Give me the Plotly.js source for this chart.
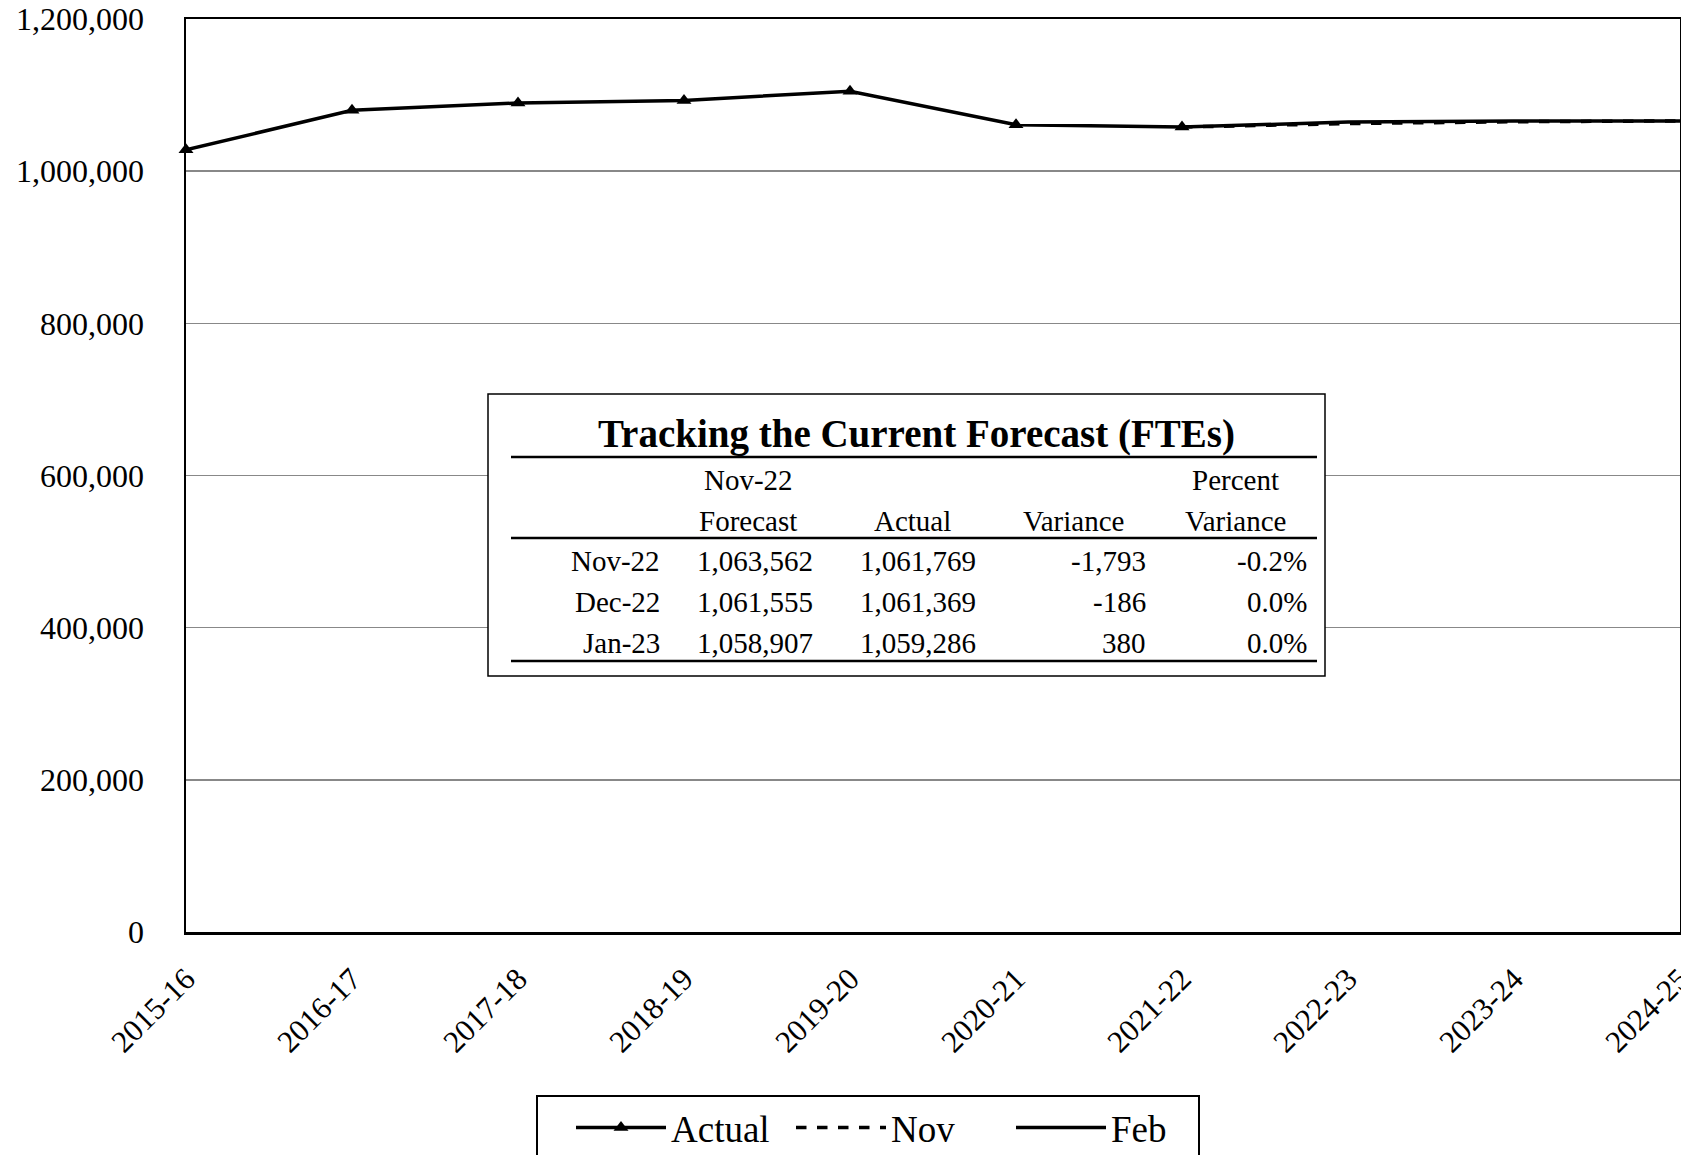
<!DOCTYPE html>
<html>
<head>
<meta charset="utf-8">
<script src="https://cdn.plot.ly/plotly-3.0.1.min.js"></script>
<style>
  html, body { margin: 0; padding: 0; background: #fff; }
  #plot { width: 1681px; height: 1155px; }
</style>
</head>
<body>
<div id="plot"></div>
<script>
// school years along the x axis
var years = ['2015-16', '2016-17', '2017-18', '2018-19', '2019-20',
             '2020-21', '2021-22', '2022-23', '2023-24', '2024-25'];

// FTEs
var actualYears = years.slice(0, 7);
var actualFte = [1028000, 1080000, 1089600, 1093000, 1105000, 1061000, 1058000];
var forecastYears = years.slice(6);
var novFte = [1058000, 1062500, 1065000, 1066000];
var febFte = [1058000, 1064500, 1066000, 1066000];

// inset table
var tableTitle = 'Tracking the Current Forecast (FTEs)';
var tableHead1 = ['', 'Nov-22', '', '', 'Percent'];
var tableHead2 = ['', 'Forecast', 'Actual', 'Variance', 'Variance'];
var tableMonths = ['Nov-22', 'Dec-22', 'Jan-23'];
var tableForecast = ['1,063,562', '1,061,555', '1,058,907'];
var tableActual = ['1,061,769', '1,061,369', '1,059,286'];
var tableVariance = ['-1,793', '-186', '380'];
var tablePct = ['-0.2%', '0.0%', '0.0%'];

var FONT = 'Liberation Serif, Times New Roman, serif';

// plot area in page pixels, used to place the inset table
var L = 186, R = 1680, T = 19, B = 932;
function px(x) { return (x - L) / (R - L); }
function py(y) { return (B - y) / (B - T); }

var traces = [
  {
    x: actualYears, y: actualFte, name: 'Actual', type: 'scatter', mode: 'lines+markers',
    line: { color: '#000', width: 3.5 },
    marker: { symbol: 'triangle-up', size: 13, color: '#000' },
    cliponaxis: false
  },
  {
    x: forecastYears, y: novFte, name: 'Nov', type: 'scatter', mode: 'lines',
    line: { color: '#000', width: 3.5, dash: 'dash' }
  },
  {
    x: forecastYears, y: febFte, name: 'Feb', type: 'scatter', mode: 'lines',
    line: { color: '#000', width: 3.5 }
  }
];

var annotations = [];
var shapes = [];

// table frame
shapes.push({
  type: 'rect', xref: 'paper', yref: 'paper', layer: 'above',
  x0: px(488), x1: px(1325), y0: py(676), y1: py(394),
  fillcolor: '#fff', line: { color: '#000', width: 1.5 }
});
// table rules
[457, 538, 661].forEach(function (yy) {
  shapes.push({
    type: 'line', xref: 'paper', yref: 'paper', layer: 'above',
    x0: px(511), x1: px(1317), y0: py(yy), y1: py(yy),
    line: { color: '#000', width: 2.5 }
  });
});

annotations.push({
  xref: 'paper', yref: 'paper', x: px(916), y: py(434), showarrow: false,
  xanchor: 'center', yanchor: 'middle',
  text: '<b>' + tableTitle + '</b>', font: { family: FONT, size: 39, color: '#000' }
});

var headCenters = [0, 748, 912, 1073, 1235];
[tableHead1, tableHead2].forEach(function (row, r) {
  row.forEach(function (t, c) {
    if (!t) return;
    annotations.push({
      xref: 'paper', yref: 'paper', x: px(headCenters[c]), y: py(r === 0 ? 480 : 521),
      showarrow: false, xanchor: 'center', yanchor: 'middle',
      text: t, font: { family: FONT, size: 29, color: '#000' }
    });
  });
});

var colRight = [662, 815, 978, 1148, 1309];
var rowY = [561, 602, 643];
var cols = [tableMonths, tableForecast, tableActual, tableVariance, tablePct];
cols.forEach(function (col, c) {
  col.forEach(function (t, r) {
    annotations.push({
      xref: 'paper', yref: 'paper', x: px(colRight[c]), y: py(rowY[r]),
      showarrow: false, xanchor: 'right', yanchor: 'middle',
      text: t, font: { family: FONT, size: 29, color: '#000' }
    });
  });
});

var layout = {
  width: 1681, height: 1155,
  margin: { l: L, r: 1681 - R, t: T, b: 1155 - B, autoexpand: false },
  paper_bgcolor: '#fff', plot_bgcolor: '#fff',
  font: { family: FONT, color: '#000', size: 32 },
  showlegend: true,
  xaxis: {
    type: 'category', range: [0, 9], tickangle: -45,
    tickfont: { family: FONT, size: 31, color: '#000' },
    showgrid: false, showline: true, linecolor: '#000', linewidth: 2.5, mirror: true,
    ticks: '', ticklabelstandoff: 14, zeroline: false
  },
  yaxis: {
    range: [0, 1200000], dtick: 200000, tickformat: ',d',
    tickfont: { family: FONT, size: 32, color: '#000' },
    showgrid: true, gridcolor: '#888', gridwidth: 1.5,
    showline: true, linecolor: '#000', linewidth: 2.5, mirror: true,
    ticks: '', ticklabelstandoff: 33, zeroline: false
  },
  legend: {
    orientation: 'h', x: px(868), xanchor: 'center', y: py(1095), yanchor: 'top',
    bordercolor: '#000', borderwidth: 2, bgcolor: '#fff',
    font: { family: FONT, size: 37, color: '#000' },
    itemwidth: 90, entrywidth: 82, entrywidthmode: 'pixels', indentation: 33,
    traceorder: 'normal'
  },
  shapes: shapes,
  annotations: annotations
};

Plotly.newPlot('plot', traces, layout, { displayModeBar: false, staticPlot: true });
</script>
</body>
</html>
